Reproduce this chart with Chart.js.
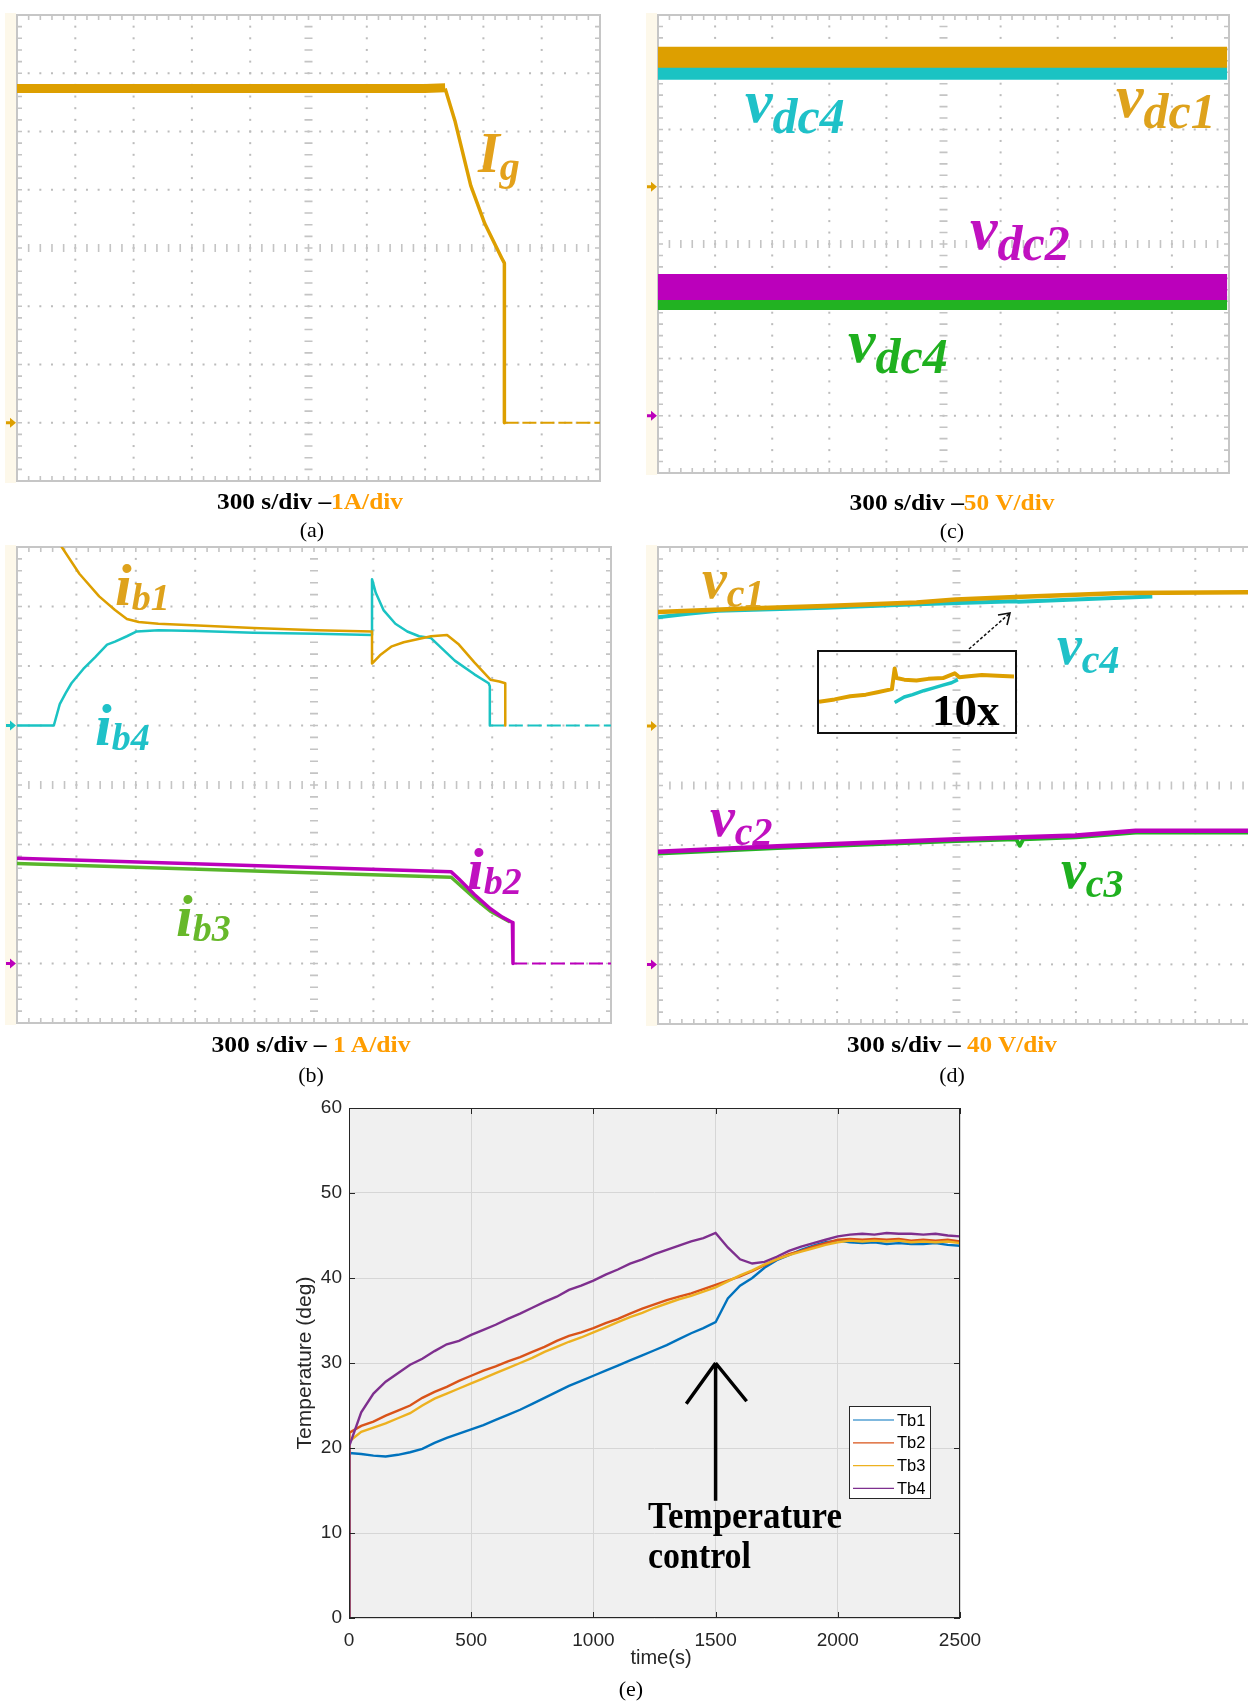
<!DOCTYPE html>
<html>
<head>
<meta charset="utf-8">
<title>Battery currents, voltages and temperatures</title>
<script src="https://cdn.jsdelivr.net/npm/chart.js@4.4.1/dist/chart.umd.min.js"></script>
<style>
  html, body { margin: 0; padding: 0; background: #ffffff; }
  body { position: relative; width: 1248px; height: 1702px; overflow: hidden; }
  canvas { position: absolute; }
  #inset-box { position: absolute; left: 817px; top: 650px; width: 200px; height: 84px;
               box-sizing: border-box; border: 2.5px solid #111; }
  #overlay { position: absolute; left: 0; top: 0; width: 1248px; height: 1702px; pointer-events: none; }
</style>
</head>
<body>
<canvas id="scopeA" width="598" height="471" style="left:5px;top:13px"></canvas>
<canvas id="scopeC" width="586" height="463" style="left:646px;top:13px"></canvas>
<canvas id="scopeB" width="609" height="481" style="left:5px;top:545px"></canvas>
<canvas id="scopeD" width="612" height="482" style="left:646px;top:545px"></canvas>
<div id="inset-box"><canvas id="inset" width="195" height="79" style="left:0;top:0"></canvas></div>
<canvas id="tempChart" width="740" height="560" style="left:270px;top:1095px"></canvas>
<svg id="overlay" xmlns="http://www.w3.org/2000/svg" width="1248" height="1702"></svg>

<script>
/* ============== Data (scope traces: time in s, level in divisions from the bottom) ============== */

// (a) grid current
const igFlatTime = [0, 2100, 2203];
const igFlatDiv  = [6.74, 6.74, 6.75];
const igDropTime = [2203, 2253, 2335, 2407, 2494, 2508, 2508];
const igDropDiv  = [6.74, 6.19, 5.07, 4.42, 3.83, 3.74, 1.0];
const igOffTime  = [2508, 3000];
const igOffDiv   = [1.0, 1.0];

// (c) dc-link voltages
const vdcTime = [0, 2990];
const vdc1Div = [7.26, 7.26];
const vdc4Div = [6.99, 6.99];
const vdc2Div = [3.25, 3.25];
const vdc3Div = [2.97, 2.97];

// (b) battery currents
const ib1Time = [186, 226, 315, 415, 495, 555, 615, 714, 915, 1194, 1512, 1793, 1793, 1833, 1893, 1953, 2022, 2091, 2172, 2232, 2310, 2391, 2436, 2466, 2466];
const ib1Div  = [8.4, 8.0, 7.55, 7.17, 6.94, 6.79, 6.74, 6.71, 6.68, 6.64, 6.60, 6.58, 6.04, 6.18, 6.33, 6.40, 6.45, 6.50, 6.52, 6.36, 6.06, 5.77, 5.74, 5.71, 5.0];
const ib4Time = [0, 186, 216, 245, 275, 335, 395, 455, 495, 555, 605, 715, 914, 1194, 1513, 1793, 1793, 1812, 1851, 1911, 1971, 2031, 2091, 2211, 2310, 2382, 2388, 2388];
const ib4Div  = [5.0, 5.0, 5.36, 5.54, 5.71, 5.95, 6.15, 6.36, 6.41, 6.50, 6.58, 6.60, 6.59, 6.56, 6.54, 6.52, 7.46, 7.23, 6.94, 6.71, 6.58, 6.50, 6.47, 6.09, 5.86, 5.71, 5.66, 5.0];
const ib4OffTime = [2388, 3000];
const ib4OffDiv  = [5.0, 5.0];
const ib2Time = [0, 2193, 2232, 2310, 2391, 2451, 2502, 2505, 2505];
const ib2Div  = [2.77, 2.54, 2.42, 2.16, 1.92, 1.78, 1.69, 1.69, 1.0];
const ib2OffTime = [2505, 3000];
const ib2OffDiv  = [1.0, 1.0];
const ib3Time = [0, 2193, 2310, 2391, 2490];
const ib3Div  = [2.68, 2.45, 2.10, 1.88, 1.70];

// (d) capacitor voltages
const vc1Time = [0, 442, 840, 1299, 1497, 1797, 2334, 2967, 3060];
const vc1Div  = [6.91, 6.97, 7.01, 7.07, 7.12, 7.16, 7.23, 7.24, 7.24];
const vc4Time = [0, 150, 300, 840, 1299, 1797, 1812, 2097, 2484];
const vc4Div  = [6.82, 6.88, 6.93, 6.98, 7.04, 7.09, 7.08, 7.12, 7.17];
const vc2Time = [0, 600, 1497, 2100, 2400, 3060];
const vc2Div  = [2.89, 2.98, 3.10, 3.16, 3.24, 3.24];
const vc3Time = [0, 600, 1497, 1800, 1818, 1836, 2100, 2400, 3060];
const vc3Div  = [2.86, 2.95, 3.07, 3.10, 2.99, 3.10, 3.13, 3.21, 3.21];

// (d) 10x zoom inset (percent of the inset box)
const insetOrangeX = [0, 8, 16, 24, 30, 37.4, 38.8, 39.8, 43.7, 50, 56, 63.6, 69.6, 72, 75.5, 83.5, 91.5, 100];
const insetOrangeY = [37, 40, 44, 46, 49, 53, 79, 67, 65, 64, 66, 67, 73, 68, 69, 71, 70, 69];
const insetCyanX = [38.8, 43.7, 48, 53.7, 58, 63.6, 68, 71.2];
const insetCyanY = [36, 43, 46, 51, 54, 58, 61, 65];

// (e) battery temperatures
const timeE = [0, 2, 50, 100, 150, 200, 250, 300, 350, 400, 450, 500, 550, 600, 650, 700, 750, 800, 850, 900, 950,
  1000, 1050, 1100, 1150, 1200, 1250, 1300, 1350, 1400, 1450, 1500, 1550, 1600, 1650, 1700, 1750, 1800, 1850, 1900, 1950,
  2000, 2050, 2100, 2150, 2200, 2250, 2300, 2350, 2400, 2450, 2500];
const tb1 = [0, 19.4, 19.3, 19.1, 19.0, 19.2, 19.5, 19.9, 20.6, 21.2, 21.7, 22.2, 22.7, 23.3, 23.9, 24.5, 25.2, 25.9, 26.6, 27.3, 27.9,
  28.5, 29.1, 29.7, 30.3, 30.9, 31.5, 32.1, 32.8, 33.5, 34.1, 34.8, 37.6, 39.1, 40.0, 41.2, 42.1, 42.7, 43.3, 43.8, 44.2,
  44.4, 44.2, 44.1, 44.2, 44.0, 44.1, 44.0, 44.0, 44.1, 43.9, 43.8];
const tb2 = [0, 21.8, 22.6, 23.1, 23.8, 24.4, 25.0, 25.9, 26.6, 27.2, 27.9, 28.5, 29.1, 29.6, 30.2, 30.7, 31.3, 31.9, 32.6, 33.2, 33.6,
  34.1, 34.7, 35.2, 35.8, 36.4, 36.9, 37.4, 37.8, 38.2, 38.7, 39.2, 39.7, 40.2, 40.8, 41.5, 42.2, 42.8, 43.2, 43.7, 44.1,
  44.5, 44.6, 44.5, 44.6, 44.5, 44.6, 44.4, 44.5, 44.4, 44.5, 44.3];
const tb3 = [0, 20.8, 21.9, 22.4, 22.9, 23.5, 24.1, 25.0, 25.8, 26.4, 27.0, 27.6, 28.2, 28.8, 29.4, 30.0, 30.6, 31.3, 31.9, 32.5, 33.0,
  33.6, 34.2, 34.8, 35.4, 35.9, 36.5, 37.0, 37.5, 37.9, 38.4, 38.9, 39.6, 40.3, 40.9, 41.6, 42.2, 42.7, 43.1, 43.5, 43.9,
  44.2, 44.4, 44.3, 44.4, 44.3, 44.4, 44.2, 44.3, 44.2, 44.3, 44.1];
const tb4 = [0, 20.3, 24.2, 26.4, 27.8, 28.8, 29.8, 30.5, 31.4, 32.2, 32.6, 33.3, 33.9, 34.5, 35.2, 35.8, 36.5, 37.2, 37.8, 38.6, 39.1,
  39.7, 40.4, 41.0, 41.7, 42.2, 42.8, 43.3, 43.8, 44.3, 44.7, 45.3, 43.6, 42.2, 41.7, 41.9, 42.5, 43.2, 43.7, 44.1, 44.5,
  44.9, 45.1, 45.2, 45.1, 45.3, 45.2, 45.2, 45.1, 45.2, 45.0, 44.9];
const tempLabels = ['Tb1', 'Tb2', 'Tb3', 'Tb4'];
const tempTicksX = [0, 500, 1000, 1500, 2000, 2500];

/* ============== Colours ============== */

const ORANGE = '#dd9f00';
const CYAN = '#1ac3c3';
const MAGENTA = '#bb00bb';
const GREEN = '#22b222';
const LIME = '#58b52b';
const MATLAB = ['#0072bd', '#d95319', '#edb120', '#7e2f8e'];

Chart.defaults.font.family = '"Liberation Sans", Arial, sans-serif';

/* ============== Oscilloscope charts ============== */

/**
 * Graticule of the scope: dotted divisions, ticked centre cross, ticked frame, ground markers.
 * @param markers list of {div, color} for the channel ground arrows on the left
 */
function scopeGrid(markers) {
  return {
    id: 'scopeGrid',
    beforeDraw(chart) {
      const { ctx, chartArea: a } = chart;
      const x = chart.scales.x, y = chart.scales.y;
      const px = d => x.getPixelForValue(d * 300);
      const py = d => y.getPixelForValue(d);
      ctx.save();
      ctx.fillStyle = '#fdf8ea';
      ctx.fillRect(0, a.top - 2, a.left - 1, a.bottom - a.top + 4);

      ctx.fillStyle = '#bcbcbc';
      for (let i = 1; i < 10; i++) {
        if (i === 5) continue;
        for (let k = 1; k < 40; k++) ctx.fillRect(px(i) - 1, py(k / 5) - 1, 2, 2);
      }
      for (let j = 1; j < 8; j++) {
        if (j === 4) continue;
        for (let k = 1; k < 50; k++) ctx.fillRect(px(k / 5) - 1, py(j) - 1, 2, 2);
      }

      ctx.strokeStyle = '#c4c4c4';
      ctx.lineWidth = 1.6;
      ctx.beginPath();
      const cx = px(5), cy = py(4);
      for (let k = 1; k < 50; k++) {
        const t = px(k / 5);
        ctx.moveTo(t, cy - 4); ctx.lineTo(t, cy + 4);
        ctx.moveTo(t, a.top); ctx.lineTo(t, a.top + 5);
        ctx.moveTo(t, a.bottom); ctx.lineTo(t, a.bottom - 5);
      }
      for (let k = 1; k < 40; k++) {
        const t = py(k / 5);
        ctx.moveTo(cx - 4, t); ctx.lineTo(cx + 4, t);
        ctx.moveTo(a.left, t); ctx.lineTo(a.left + 5, t);
        ctx.moveTo(a.right, t); ctx.lineTo(a.right - 5, t);
      }
      ctx.stroke();

      ctx.strokeStyle = '#c6c6c6';
      ctx.lineWidth = 2;
      ctx.strokeRect(a.left, a.top, a.right - a.left, a.bottom - a.top);

      markers.forEach(m => {
        const my = py(m.div), mx = a.left - 1;
        ctx.fillStyle = m.color;
        ctx.beginPath();
        ctx.moveTo(mx - 10, my - 1.5);
        ctx.lineTo(mx - 6, my - 1.5);
        ctx.lineTo(mx - 6, my - 5);
        ctx.lineTo(mx, my);
        ctx.lineTo(mx - 6, my + 5);
        ctx.lineTo(mx - 6, my + 1.5);
        ctx.lineTo(mx - 10, my + 1.5);
        ctx.closePath();
        ctx.fill();
      });
      ctx.restore();
    }
  };
}

function trace(times, divs, color, width, dash) {
  return {
    data: times.map((t, i) => ({ x: t, y: divs[i] })),
    borderColor: color,
    borderWidth: width,
    borderDash: dash || [],
    borderCapStyle: 'butt',
    borderJoinStyle: 'round',
    pointRadius: 0,
    tension: 0,
    fill: false
  };
}

function scopeChart(id, datasets, markers) {
  return new Chart(document.getElementById(id), {
    type: 'line',
    data: { datasets },
    options: {
      responsive: false,
      animation: false,
      events: [],
      layout: { padding: { left: 12, top: 2, right: 3, bottom: 3 } },
      scales: {
        x: { type: 'linear', min: 0, max: 3000, display: false },
        y: { type: 'linear', min: 0, max: 8, display: false }
      },
      plugins: { legend: { display: false }, tooltip: { enabled: false } }
    },
    plugins: [scopeGrid(markers)]
  });
}

scopeChart('scopeA', [
  trace(igFlatTime, igFlatDiv, ORANGE, 9),
  trace(igDropTime, igDropDiv, ORANGE, 3.5),
  trace(igOffTime, igOffDiv, ORANGE, 2, [14, 4])
], [{ div: 1, color: ORANGE }]);

scopeChart('scopeC', [
  trace(vdcTime, vdc1Div, ORANGE, 21),
  trace(vdcTime, vdc4Div, CYAN, 14),
  trace(vdcTime, vdc2Div, MAGENTA, 26),
  trace(vdcTime, vdc3Div, GREEN, 14)
], [{ div: 5, color: ORANGE }, { div: 1, color: MAGENTA }]);

scopeChart('scopeB', [
  trace(ib2Time, ib2Div, MAGENTA, 3.5),
  trace(ib3Time, ib3Div, LIME, 3.5),
  trace(ib1Time, ib1Div, ORANGE, 2.5),
  trace(ib4Time, ib4Div, CYAN, 2.5),
  trace(ib4OffTime, ib4OffDiv, CYAN, 2, [14, 5]),
  trace(ib2OffTime, ib2OffDiv, MAGENTA, 2, [14, 5])
], [{ div: 5, color: CYAN }, { div: 1, color: MAGENTA }]);

scopeChart('scopeD', [
  trace(vc1Time, vc1Div, ORANGE, 4.5),
  trace(vc4Time, vc4Div, CYAN, 4),
  trace(vc2Time, vc2Div, MAGENTA, 4.5),
  trace(vc3Time, vc3Div, GREEN, 4)
], [{ div: 5, color: ORANGE }, { div: 1, color: MAGENTA }]);

new Chart(document.getElementById('inset'), {
  type: 'line',
  data: {
    datasets: [
      trace(insetOrangeX, insetOrangeY, ORANGE, 4),
      trace(insetCyanX, insetCyanY, CYAN, 3.5)
    ]
  },
  options: {
    responsive: false,
    animation: false,
    events: [],
    layout: { padding: 0 },
    scales: {
      x: { type: 'linear', min: 0, max: 100, display: false },
      y: { type: 'linear', min: 0, max: 100, display: false }
    },
    plugins: { legend: { display: false }, tooltip: { enabled: false } }
  }
});

/* ============== Temperature chart (e) ============== */

const arrowTip = { x: 1500, y: 30 };
const arrowTail = { x: 1500, y: 13.8 };
const arrowWings = [{ x: 1380, y: 25.2 }, { x: 1627, y: 25.5 }];

const matlabFrame = {
  id: 'matlabFrame',
  beforeDraw(chart) {
    const { ctx, chartArea: a } = chart;
    ctx.save();
    ctx.fillStyle = '#f0f0f0';
    ctx.fillRect(a.left, a.top, a.right - a.left, a.bottom - a.top);
    ctx.restore();
  },
  afterDatasetsDraw(chart) {
    const { ctx, chartArea: a } = chart;
    const x = chart.scales.x, y = chart.scales.y;
    ctx.save();

    // arrow pointing at the start of the temperature control
    ctx.strokeStyle = '#000';
    ctx.lineWidth = 3.5;
    ctx.lineCap = 'butt';
    ctx.beginPath();
    ctx.moveTo(x.getPixelForValue(arrowTail.x), y.getPixelForValue(arrowTail.y));
    ctx.lineTo(x.getPixelForValue(arrowTip.x), y.getPixelForValue(arrowTip.y));
    arrowWings.forEach(w => {
      ctx.moveTo(x.getPixelForValue(arrowTip.x), y.getPixelForValue(arrowTip.y));
      ctx.lineTo(x.getPixelForValue(w.x), y.getPixelForValue(w.y));
    });
    ctx.stroke();

    // box with inward ticks on all sides
    ctx.strokeStyle = '#262626';
    ctx.lineWidth = 1;
    ctx.strokeRect(a.left + 0.5, a.top + 0.5, a.right - a.left - 1, a.bottom - a.top - 1);
    ctx.beginPath();
    x.ticks.forEach(t => {
      const p = Math.round(x.getPixelForValue(t.value)) + 0.5;
      ctx.moveTo(p, a.bottom); ctx.lineTo(p, a.bottom - 6);
      ctx.moveTo(p, a.top); ctx.lineTo(p, a.top + 6);
    });
    y.ticks.forEach(t => {
      const p = Math.round(y.getPixelForValue(t.value)) + 0.5;
      ctx.moveTo(a.left, p); ctx.lineTo(a.left + 6, p);
      ctx.moveTo(a.right, p); ctx.lineTo(a.right - 6, p);
    });
    ctx.stroke();

    // legend inside the axes
    const lx = a.right - 111, ly = a.top + 298;
    ctx.fillStyle = '#ffffff';
    ctx.fillRect(lx, ly, 82, 93);
    ctx.strokeStyle = '#262626';
    ctx.strokeRect(lx + 0.5, ly + 0.5, 81, 92);
    ctx.font = '16.5px "Liberation Sans", Arial, sans-serif';
    ctx.textBaseline = 'middle';
    chart.data.datasets.forEach((ds, i) => {
      const ry = ly + 14 + i * 22.8;
      ctx.strokeStyle = ds.borderColor;
      ctx.lineWidth = 1.2;
      ctx.beginPath();
      ctx.moveTo(lx + 4, ry);
      ctx.lineTo(lx + 45, ry);
      ctx.stroke();
      ctx.fillStyle = '#000';
      ctx.fillText(ds.label, lx + 48, ry + 1);
    });
    ctx.restore();
  }
};

const tempSeries = [tb1, tb2, tb3, tb4];

// keep the plot box where the axes are; no extra room for overhanging tick labels
function noOverhang(s) {
  s.paddingLeft = 0; s.paddingRight = 0; s.paddingTop = 0; s.paddingBottom = 0;
}

new Chart(document.getElementById('tempChart'), {
  type: 'line',
  data: {
    datasets: tempSeries.map((vals, i) => ({
      label: tempLabels[i],
      data: timeE.map((t, k) => ({ x: t, y: vals[k] })),
      borderColor: MATLAB[i],
      borderWidth: 2.4,
      pointRadius: 0,
      tension: 0,
      fill: false,
      order: 4 - i
    }))
  },
  options: {
    responsive: false,
    animation: false,
    events: [],
    layout: { padding: { top: 13, right: 50, left: 0, bottom: 0 } },
    scales: {
      x: {
        type: 'linear', min: 0, max: 2500,
        afterBuildTicks: s => { s.ticks = tempTicksX.map(v => ({ value: v })); },
        afterFit: s => { s.height = 37; noOverhang(s); },
        grid: { color: '#d6d6d6', drawTicks: false },
        border: { display: false },
        ticks: { color: '#262626', font: { size: 19 }, padding: 11, maxRotation: 0, callback: v => String(v) }
      },
      y: {
        type: 'linear', min: 0, max: 60,
        ticks: { stepSize: 10, color: '#262626', font: { size: 19 }, padding: 7, callback: v => String(v) },
        afterFit: s => { s.width = 79; noOverhang(s); },
        grid: { color: '#d6d6d6', drawTicks: false },
        border: { display: false }
      }
    },
    plugins: { legend: { display: false }, tooltip: { enabled: false } }
  },
  plugins: [matlabFrame]
});

/* ============== Text overlay ============== */

// [x, baseline y, main glyph, subscript, colour, main size, sub size, sub drop]
const traceLabels = [
  [478, 172, 'I', 'g', '#e3a11b', 56, 40, 8],
  [745, 122, 'v', 'dc4', '#1fc1c8', 62, 50, 11],
  [1116, 117, 'v', 'dc1', '#dea21c', 62, 50, 11],
  [970, 249, 'v', 'dc2', '#c011c0', 62, 50, 11],
  [848, 362, 'v', 'dc4', '#1fb01f', 62, 50, 11],
  [115, 605, 'i', 'b1', '#dea21c', 60, 38, 5],
  [95, 745, 'i', 'b4', '#1fc1c8', 60, 38, 5],
  [467, 889, 'i', 'b2', '#c011c0', 60, 38, 5],
  [176, 936, 'i', 'b3', '#67b82a', 60, 38, 5],
  [702, 598, 'v', 'c1', '#dea21c', 56, 40, 9],
  [1057, 664, 'v', 'c4', '#1fc1c8', 56, 40, 9],
  [710, 836, 'v', 'c2', '#c011c0', 56, 40, 9],
  [1061, 888, 'v', 'c3', '#1fb01f', 56, 40, 9]
];

// [centre x, baseline y, black part, orange part, width]
const captions = [
  [310, 509, '300 s/div –', '1A/div', 186],
  [952, 510, '300 s/div –', '50 V/div', 205],
  [311, 1052, '300 s/div – ', '1 A/div', 199],
  [952, 1052, '300 s/div – ', '40 V/div', 210]
];

const panelTags = [[312, 537, '(a)'], [952, 538, '(c)'], [311, 1082, '(b)'], [952, 1082, '(d)'], [631, 1696, '(e)']];

let svg = '';
traceLabels.forEach(([x, y, main, sub, col, ms, ss, drop]) => {
  svg += `<text x="${x}" y="${y}" fill="${col}" font-family="Liberation Serif" font-weight="bold" font-style="italic">` +
    `<tspan font-size="${ms}">${main}</tspan><tspan font-size="${ss}" dy="${drop}">${sub}</tspan></text>`;
});
captions.forEach(([x, y, black, orange, w]) => {
  svg += `<text x="${x}" y="${y}" text-anchor="middle" font-family="Liberation Serif" font-weight="bold" font-size="23" ` +
    `textLength="${w}" lengthAdjust="spacingAndGlyphs" xml:space="preserve">` +
    `<tspan fill="#000">${black}</tspan><tspan fill="#ff9d00">${orange}</tspan></text>`;
});
panelTags.forEach(([x, y, t]) => {
  svg += `<text x="${x}" y="${y}" text-anchor="middle" font-family="Liberation Serif" font-size="22" fill="#000">${t}</text>`;
});

// inset magnification and its pointer
svg += `<text x="932" y="725" font-family="Liberation Serif" font-weight="bold" font-size="45" fill="#000">10x</text>`;
svg += `<line x1="969" y1="649" x2="1009" y2="614" stroke="#111" stroke-width="1.5" stroke-dasharray="3 2"/>`;
svg += `<polyline points="998,615 1010,613 1007,625" fill="none" stroke="#111" stroke-width="1.6"/>`;

// temperature chart texts
svg += `<text x="648" y="1528" font-family="Liberation Serif" font-weight="bold" font-size="37" fill="#000" textLength="194" lengthAdjust="spacingAndGlyphs">Temperature</text>`;
svg += `<text x="648" y="1568" font-family="Liberation Serif" font-weight="bold" font-size="37" fill="#000" textLength="103" lengthAdjust="spacingAndGlyphs">control</text>`;
svg += `<text x="661" y="1664" text-anchor="middle" font-family="Liberation Sans" font-size="20" fill="#262626">time(s)</text>`;
svg += `<text transform="translate(311,1363) rotate(-90)" text-anchor="middle" font-family="Liberation Sans" font-size="21" fill="#262626">Temperature (deg)</text>`;

document.getElementById('overlay').innerHTML = svg;
</script>
</body>
</html>
